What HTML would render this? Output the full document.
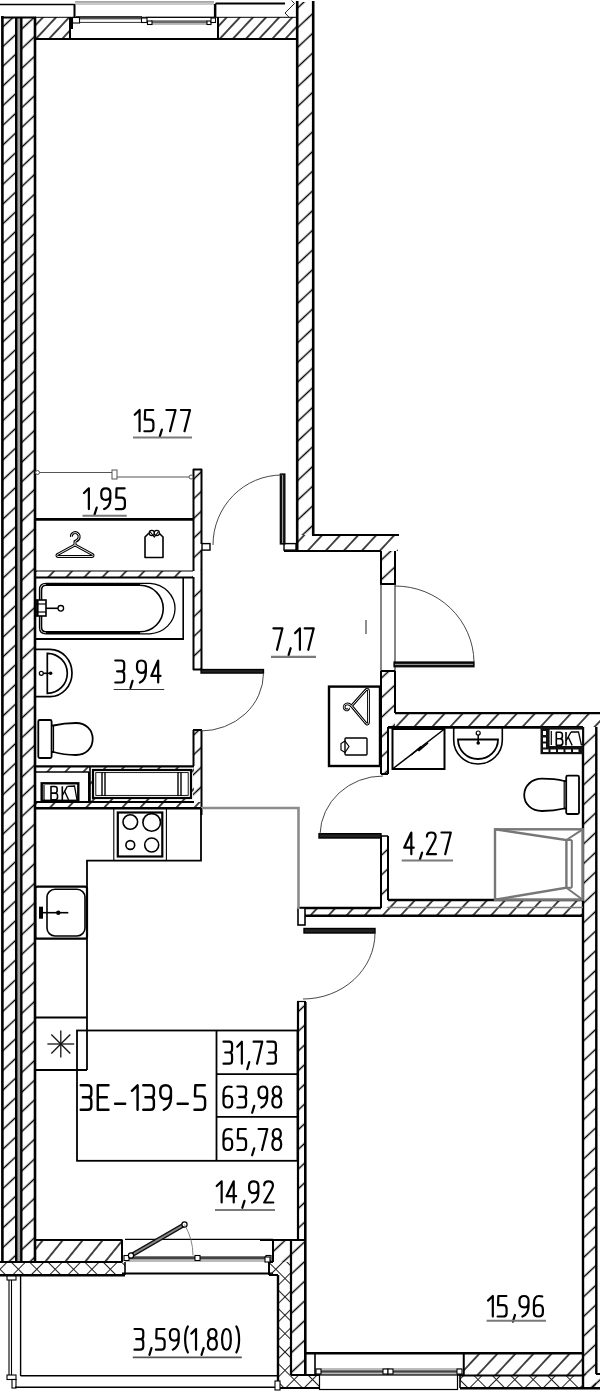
<!DOCTYPE html><html><head><meta charset="utf-8"><style>html,body{margin:0;padding:0;background:#fff;}body{width:600px;height:1393px;overflow:hidden;font-family:"Liberation Sans",sans-serif;} svg{display:block;}</style></head><body><svg width="600" height="1393" viewBox="0 0 600 1393" shape-rendering="geometricPrecision"><defs><pattern id="hv" patternUnits="userSpaceOnUse" width="40" height="14.4" patternTransform="rotate(-43)"><line x1="0" y1="7.2" x2="40" y2="7.2" stroke="#000" stroke-width="1.25"/></pattern><pattern id="hh" patternUnits="userSpaceOnUse" width="40" height="13.2" patternTransform="rotate(-47)"><line x1="0" y1="6.6" x2="40" y2="6.6" stroke="#000" stroke-width="1.25"/></pattern><pattern id="ht" patternUnits="userSpaceOnUse" width="40" height="9.6" patternTransform="rotate(-47)"><line x1="0" y1="4.8" x2="40" y2="4.8" stroke="#000" stroke-width="1.25"/></pattern><pattern id="hk" patternUnits="userSpaceOnUse" width="40" height="15.5" patternTransform="rotate(-51)"><line x1="0" y1="7.75" x2="40" y2="7.75" stroke="#000" stroke-width="1.25"/></pattern><pattern id="hx" patternUnits="userSpaceOnUse" width="13" height="13" patternTransform="rotate(45)"><line x1="0" y1="0.5" x2="13" y2="0.5" stroke="#222" stroke-width="1"/><line x1="0.5" y1="0" x2="0.5" y2="13" stroke="#222" stroke-width="1"/></pattern></defs><rect width="600" height="1393" fill="#fff"/><rect x="2" y="17" width="14" height="1245" fill="url(#hv)"/>
<rect x="21" y="17" width="14" height="1245" fill="url(#hv)"/>
<rect x="17" y="17" width="3.4" height="1245" rx="0" fill="#a5a5a5" stroke="none" stroke-width="0" />
<line x1="2.4" y1="16" x2="2.4" y2="1263" stroke="#000" stroke-width="2.6" />
<line x1="16.2" y1="17" x2="16.2" y2="1262" stroke="#000" stroke-width="2.4" />
<line x1="21.3" y1="17" x2="21.3" y2="1262" stroke="#000" stroke-width="2.4" />
<line x1="35" y1="17" x2="35" y2="1262" stroke="#000" stroke-width="2.6" />
<line x1="1" y1="17.5" x2="36" y2="17.5" stroke="#000" stroke-width="2.2" />
<rect x="35" y="17" width="35" height="22" fill="url(#ht)"/>
<rect x="218" y="17" width="79" height="22" fill="url(#ht)"/>
<line x1="0" y1="4.5" x2="74.5" y2="4.5" stroke="#000" stroke-width="1.6" />
<line x1="74.5" y1="4.5" x2="74.5" y2="17" stroke="#000" stroke-width="1.6" />
<line x1="215.6" y1="3.5" x2="285" y2="3.5" stroke="#000" stroke-width="1.8" />
<line x1="215.6" y1="3.5" x2="215.6" y2="17" stroke="#000" stroke-width="1.6" />
<line x1="35" y1="17.3" x2="297" y2="17.3" stroke="#000" stroke-width="1" />
<line x1="35" y1="39" x2="297" y2="39" stroke="#000" stroke-width="2" />
<line x1="70" y1="17" x2="70" y2="39" stroke="#000" stroke-width="2" />
<line x1="218" y1="17" x2="218" y2="39" stroke="#000" stroke-width="2" />
<rect x="75" y="1.5" width="139" height="3.5" rx="0" fill="#c8c8c8" stroke="none" stroke-width="0" />
<line x1="75" y1="1.8" x2="214" y2="1.8" stroke="#8a8a8a" stroke-width="1" />
<line x1="74.5" y1="4" x2="74.5" y2="17.5" stroke="#000" stroke-width="1.6" />
<line x1="214.8" y1="4" x2="214.8" y2="17.5" stroke="#000" stroke-width="1.8" />
<rect x="70" y="17" width="3" height="12" rx="0" fill="#000" stroke="none" stroke-width="0" />
<rect x="76" y="16.8" width="66" height="2.6" rx="0" fill="#555" stroke="none" stroke-width="0" />
<line x1="76" y1="16.8" x2="142" y2="16.8" stroke="#000" stroke-width="1" />
<line x1="76" y1="22.4" x2="142" y2="22.4" stroke="#333" stroke-width="1" />
<line x1="146" y1="17.3" x2="214" y2="17.3" stroke="#000" stroke-width="1" />
<rect x="151" y="20.3" width="56" height="2.8" rx="0" fill="#6a6a6a" stroke="none" stroke-width="0" />
<line x1="151" y1="24" x2="207" y2="24" stroke="#555" stroke-width="0.8" />
<rect x="72.5" y="17.5" width="7" height="5.5" rx="0" fill="#fff" stroke="#000" stroke-width="1.1" />
<rect x="141.5" y="18" width="5.5" height="4.5" rx="0" fill="#fff" stroke="#000" stroke-width="1.1" />
<rect x="147.5" y="21" width="4.5" height="3.5" rx="0" fill="#fff" stroke="#000" stroke-width="1.1" />
<rect x="207" y="21" width="4" height="3.5" rx="0" fill="#fff" stroke="#000" stroke-width="1.1" />
<rect x="211" y="18" width="4.5" height="4.5" rx="0" fill="#fff" stroke="#000" stroke-width="1.1" />
<polyline points="291.5,0.5 294.5,3.5 285,13 289.3,17.5" fill="none" stroke="#222" stroke-width="1" />
<rect x="297" y="2" width="16" height="533" fill="url(#hv)"/>
<line x1="297.2" y1="1" x2="297.2" y2="552" stroke="#000" stroke-width="2.6" />
<line x1="313.2" y1="1" x2="313.2" y2="535" stroke="#000" stroke-width="2.6" />
<polygon points="297,535 398,535 398,551 297,551" fill="url(#hh)" stroke="none" stroke-width="0" />
<polygon points="381,551 395,551 395,584 381,584" fill="url(#hv)" stroke="none" stroke-width="0" />
<line x1="312" y1="535" x2="399" y2="535" stroke="#000" stroke-width="2.2" />
<line x1="284" y1="551" x2="381" y2="551" stroke="#000" stroke-width="2.2" />
<line x1="381" y1="551" x2="381" y2="584" stroke="#000" stroke-width="2" />
<line x1="395" y1="551" x2="395" y2="584" stroke="#000" stroke-width="2" />
<line x1="380" y1="584" x2="396" y2="584" stroke="#000" stroke-width="2" />
<rect x="284" y="543.6" width="12" height="6.5" rx="0" fill="#fff" stroke="#000" stroke-width="1.4" />
<rect x="193" y="469" width="9" height="101" fill="url(#hv)"/>
<rect x="193" y="578" width="9" height="92" fill="url(#hv)"/>
<rect x="193" y="730" width="9" height="72" fill="url(#hv)"/>
<line x1="193.5" y1="469" x2="193.5" y2="571" stroke="#000" stroke-width="2" />
<line x1="193.5" y1="577" x2="193.5" y2="670" stroke="#000" stroke-width="2" />
<line x1="201.5" y1="469" x2="201.5" y2="544" stroke="#000" stroke-width="2" />
<line x1="201.5" y1="550" x2="201.5" y2="670" stroke="#000" stroke-width="2" />
<line x1="193" y1="469.5" x2="202" y2="469.5" stroke="#000" stroke-width="2" />
<line x1="193.5" y1="730" x2="193.5" y2="766" stroke="#000" stroke-width="2" />
<line x1="201.5" y1="730" x2="201.5" y2="815" stroke="#000" stroke-width="2" />
<rect x="202" y="543.6" width="8" height="6.5" rx="0" fill="#fff" stroke="#000" stroke-width="1.4" />
<line x1="193" y1="669.5" x2="202" y2="669.5" stroke="#000" stroke-width="2" />
<line x1="193" y1="730" x2="202" y2="730" stroke="#000" stroke-width="2" />
<line x1="35" y1="519.4" x2="193" y2="519.4" stroke="#000" stroke-width="2.8" />
<line x1="37" y1="472.5" x2="112" y2="472.5" stroke="#555" stroke-width="1" />
<line x1="117" y1="477" x2="191" y2="477" stroke="#555" stroke-width="1" />
<rect x="112" y="470" width="5" height="9" rx="0" fill="#fff" stroke="#555" stroke-width="1" />
<circle cx="37.5" cy="472.5" r="2" fill="#fff" stroke="#555" stroke-width="1"/>
<circle cx="191" cy="477" r="2" fill="#fff" stroke="#555" stroke-width="1"/>
<rect x="35" y="571" width="158" height="6" fill="url(#hh)"/>
<line x1="35" y1="571" x2="193" y2="571" stroke="#000" stroke-width="1.2" />
<line x1="35" y1="577.5" x2="193" y2="577.5" stroke="#000" stroke-width="2" />
<rect x="35" y="766" width="54" height="6" fill="url(#hh)"/>
<line x1="35" y1="766.3" x2="194" y2="766.3" stroke="#000" stroke-width="2.2" />
<line x1="35" y1="772" x2="89" y2="772" stroke="#000" stroke-width="1.6" />
<rect x="35" y="802" width="166" height="6" fill="url(#hh)"/>
<line x1="35" y1="802" x2="89" y2="802" stroke="#000" stroke-width="2" />
<line x1="35" y1="808.3" x2="201" y2="808.3" stroke="#000" stroke-width="2.4" />
<line x1="89" y1="772" x2="89" y2="802" stroke="#000" stroke-width="2" />
<rect x="90" y="766" width="104" height="36" fill="url(#hh)"/>
<rect x="93" y="770" width="98" height="28" rx="0" fill="#fff" stroke="#000" stroke-width="2.2" />
<rect x="95.8" y="772.6" width="92.4" height="22.8" rx="0" fill="none" stroke="#000" stroke-width="0.9" />
<line x1="90" y1="766" x2="90" y2="802" stroke="#000" stroke-width="1.6" />
<line x1="89" y1="802" x2="194" y2="802" stroke="#000" stroke-width="2" />
<line x1="102" y1="772" x2="102" y2="796" stroke="#000" stroke-width="1.4" />
<line x1="105" y1="772" x2="105" y2="796" stroke="#000" stroke-width="1.4" />
<line x1="178" y1="772" x2="178" y2="796" stroke="#000" stroke-width="1.4" />
<line x1="181" y1="772" x2="181" y2="796" stroke="#000" stroke-width="1.4" />
<line x1="381" y1="584" x2="381" y2="671" stroke="#222" stroke-width="1.1" />
<line x1="395" y1="584" x2="395" y2="671" stroke="#222" stroke-width="1.1" />
<polygon points="381,671 395,671 395,727 381,727" fill="url(#hv)" stroke="none" stroke-width="0" />
<rect x="381" y="727" width="7" height="47" fill="url(#hv)"/>
<line x1="381" y1="671" x2="381" y2="774" stroke="#000" stroke-width="2" />
<line x1="395" y1="671" x2="395" y2="713" stroke="#000" stroke-width="2" />
<line x1="381" y1="671" x2="395" y2="671" stroke="#000" stroke-width="2" />
<line x1="388" y1="727" x2="388" y2="774" stroke="#000" stroke-width="2" />
<line x1="381" y1="774" x2="388" y2="774" stroke="#000" stroke-width="2" />
<rect x="395" y="713" width="205" height="14" fill="url(#hh)"/>
<line x1="395" y1="713.2" x2="600" y2="713.2" stroke="#000" stroke-width="2.2" />
<line x1="388" y1="727.4" x2="583" y2="727.4" stroke="#000" stroke-width="2.6" />
<rect x="583" y="727" width="13" height="661" fill="url(#hv)"/>
<line x1="583" y1="727" x2="583" y2="1389" stroke="#000" stroke-width="2.4" />
<line x1="596.3" y1="727" x2="596.3" y2="1374" stroke="#000" stroke-width="2.4" />
<line x1="596" y1="1374" x2="600" y2="1374" stroke="#000" stroke-width="2" />
<rect x="583" y="1374" width="17" height="14" fill="url(#hv)"/>
<rect x="394" y="662" width="80" height="4.8" rx="0" fill="#111" stroke="#000" stroke-width="1.2" />
<line x1="395" y1="664.4" x2="473" y2="664.4" stroke="#ccc" stroke-width="0.8" />
<path d="M474,662 A79,77 0 0,0 395,586" fill="none" stroke="#333" stroke-width="0.9" />
<rect x="381" y="836" width="7" height="72" fill="url(#hv)"/>
<line x1="381" y1="836" x2="381" y2="908" stroke="#000" stroke-width="2" />
<line x1="388" y1="836" x2="388" y2="900" stroke="#000" stroke-width="2" />
<line x1="381" y1="836" x2="388" y2="836" stroke="#000" stroke-width="1.5" />
<rect x="319" y="833.7" width="62" height="4.3" rx="0" fill="#222" stroke="#000" stroke-width="1.4" />
<path d="M320,834 A63,60 0 0,1 383,776" fill="none" stroke="#333" stroke-width="0.9" />
<rect x="388" y="900" width="195" height="16" fill="url(#hh)"/>
<rect x="305" y="908" width="83" height="8" fill="url(#hh)"/>
<line x1="388" y1="900" x2="583" y2="900" stroke="#000" stroke-width="2.4" />
<line x1="388" y1="907.5" x2="583" y2="907.5" stroke="#777" stroke-width="1.5" />
<line x1="299" y1="908" x2="381" y2="908" stroke="#000" stroke-width="2.6" />
<line x1="305" y1="915.7" x2="583" y2="915.7" stroke="#000" stroke-width="2.4" />
<rect x="495" y="829.3" width="87.7" height="70.4" rx="0" fill="none" stroke="#777" stroke-width="2.4" />
<polyline points="495,829.3 566.4,840 566.4,887.8 495,899.7" fill="none" stroke="#777" stroke-width="2.4" />
<line x1="571.8" y1="840" x2="571.8" y2="887.8" stroke="#777" stroke-width="2" />
<line x1="566.4" y1="840" x2="582.7" y2="829.3" stroke="#777" stroke-width="2" />
<line x1="566.4" y1="887.8" x2="582.7" y2="899.7" stroke="#777" stroke-width="2" />
<line x1="566.4" y1="840" x2="571.8" y2="840" stroke="#777" stroke-width="2" />
<line x1="566.4" y1="887.8" x2="571.8" y2="887.8" stroke="#777" stroke-width="2" />
<rect x="298" y="1002" width="7" height="238" fill="url(#hv)"/>
<line x1="298" y1="1002" x2="298" y2="1240" stroke="#000" stroke-width="2.2" />
<line x1="305.3" y1="1002" x2="305.3" y2="1240" stroke="#000" stroke-width="2.6" />
<line x1="297" y1="1001.5" x2="306" y2="1001.5" stroke="#000" stroke-width="1.2" />
<rect x="298" y="908" width="7" height="17" rx="0" fill="#fff" stroke="#000" stroke-width="1.6" />
<rect x="304" y="928.5" width="71" height="4.5" rx="0" fill="#222" stroke="#000" stroke-width="1.4" />
<path d="M375,933 A72,66 0 0,1 303,999" fill="none" stroke="#333" stroke-width="0.9" />
<polyline points="201,808 298.5,808 298.5,909" fill="none" stroke="#8c8c8c" stroke-width="2.6" />
<line x1="183.2" y1="577.5" x2="183.2" y2="639" stroke="#000" stroke-width="1.6" />
<line x1="35" y1="639" x2="184" y2="639" stroke="#000" stroke-width="2.2" />
<path d="M46,583.3 L150,583.3 A26.7,25.3 0 0,1 150,633.8 L46,633.8 C42,633.8 39.5,631.5 39.5,627.5 L39.5,589.5 C39.5,585.5 42,583.3 46,583.3 Z" fill="none" stroke="#000" stroke-width="1.3" />
<path d="M46,585.3 L140,585.3 A23.2,23.2 0 0,1 140,631.8 L46,631.8 C43,631.8 41.5,630 41.5,627 L41.5,590.5 C41.5,587.3 43,585.3 46,585.3 Z" fill="none" stroke="#000" stroke-width="1.6" />
<line x1="46" y1="584.3" x2="140" y2="584.3" stroke="#000" stroke-width="2.4" />
<line x1="46" y1="632.8" x2="140" y2="632.8" stroke="#000" stroke-width="2.4" />
<rect x="36" y="600" width="10" height="16" rx="0" fill="#fff" stroke="#000" stroke-width="1.6" />
<line x1="36" y1="604" x2="46" y2="604" stroke="#000" stroke-width="1.2" />
<line x1="36" y1="612" x2="46" y2="612" stroke="#000" stroke-width="1.2" />
<line x1="37.5" y1="600" x2="37.5" y2="616" stroke="#000" stroke-width="2.2" />
<line x1="46" y1="608.3" x2="58" y2="608.3" stroke="#000" stroke-width="1.6" />
<circle cx="60.8" cy="608.3" r="2.8" fill="#fff" stroke="#000" stroke-width="1.3"/>
<path d="M35.5,649.3 L50,649.3 A22,23.7 0 0,1 50,696.7 L35.5,696.7" fill="none" stroke="#000" stroke-width="1.7" />
<path d="M47.3,653.3 A20,20 0 0,1 47.3,693.3 Z" fill="none" stroke="#000" stroke-width="1.7" />
<circle cx="41.3" cy="673.3" r="2" fill="#fff" stroke="#000" stroke-width="1.2"/>
<line x1="43.3" y1="673.3" x2="51" y2="673.3" stroke="#000" stroke-width="1.6" />
<circle cx="50.7" cy="673.3" r="1.7" fill="#000"/>
<rect x="38.3" y="720" width="13.3" height="38" rx="1.5" fill="#fff" stroke="#000" stroke-width="1.8" />
<path d="M51.6,725.5 L53.5,725.5 C62,723.5 70,723 76,723 C86,723 92.7,730 92.7,739 C92.7,748 86,755 76,755 C70,755 62,754.5 53.5,752 L51.6,752" fill="none" stroke="#000" stroke-width="1.8" />
<line x1="53.5" y1="725.5" x2="53.5" y2="752" stroke="#000" stroke-width="1.2" />
<rect x="41.7" y="783.3" width="36.6" height="17.5" rx="0" fill="#fff" stroke="#000" stroke-width="2.4" />
<line x1="44" y1="785" x2="44" y2="800" stroke="#000" stroke-width="1.2" />
<g transform="translate(50.38,785.84) scale(0.7765,0.6650)" fill="none" stroke="#000" stroke-width="1.6" stroke-linecap="round" stroke-linejoin="round"><path vector-effect="non-scaling-stroke" transform="translate(0.00,0)" d="M0.8,1 L0.8,21 L6,21 C8.3,21 9.2,19.8 9.2,17 L9.2,15 C9.2,12 8,11 5.5,11 L0.8,11 M5.5,11 C7.5,11 8.7,10 8.7,7.5 L8.7,4.5 C8.7,2 7.5,1 5.5,1 L0.8,1"/></g>
<line x1="62.3" y1="786.3" x2="62.3" y2="800" stroke="#000" stroke-width="1.6" />
<line x1="62.3" y1="795.5" x2="67.3" y2="786.3" stroke="#000" stroke-width="1.4" />
<line x1="64.6" y1="791.2" x2="68.6" y2="800" stroke="#000" stroke-width="1.4" />
<polyline points="67.3,786.3 74.5,786 77,800" fill="none" stroke="#000" stroke-width="1.3" />
<rect x="329" y="686.6" width="51" height="79.4" rx="0" fill="#fff" stroke="#000" stroke-width="2.4" />
<polyline points="201,808 201,860.7 87,860.7 87,1070" fill="none" stroke="#000" stroke-width="1.8" />
<rect x="113.8" y="808.3" width="52.6" height="52.2" rx="0" fill="none" stroke="#000" stroke-width="1.1" />
<rect x="117.8" y="812.5" width="44.5" height="44" rx="0" fill="none" stroke="#000" stroke-width="2.2" />
<circle cx="130.3" cy="822" r="7.3" fill="none" stroke="#000" stroke-width="1.6"/>
<circle cx="151.7" cy="822.4" r="8.8" fill="none" stroke="#000" stroke-width="1.6"/>
<circle cx="130.3" cy="845" r="4.4" fill="none" stroke="#000" stroke-width="1.6"/>
<circle cx="151.7" cy="845" r="7" fill="none" stroke="#000" stroke-width="1.6"/>
<rect x="35.5" y="886.7" width="51.5" height="52" rx="2" fill="#fff" stroke="#000" stroke-width="2.2" />
<rect x="47" y="889.3" width="38" height="46.7" rx="8" fill="none" stroke="#000" stroke-width="1.6" />
<rect x="39" y="906.7" width="4" height="12" rx="0" fill="#000" stroke="none" stroke-width="0" />
<line x1="43" y1="912.7" x2="68.3" y2="912.7" stroke="#000" stroke-width="1.6" />
<circle cx="58.3" cy="912.7" r="2.2" fill="#000"/>
<line x1="35" y1="1017.5" x2="87" y2="1017.5" stroke="#000" stroke-width="1.8" />
<line x1="35" y1="1070" x2="87" y2="1070" stroke="#000" stroke-width="1.8" />
<line x1="47.4" y1="1044.0" x2="74.2" y2="1044.0" stroke="#111" stroke-width="1.3" />
<line x1="51.32" y1="1034.52" x2="70.28" y2="1053.48" stroke="#111" stroke-width="1.3" />
<line x1="60.8" y1="1030.6" x2="60.8" y2="1057.4" stroke="#111" stroke-width="1.3" />
<line x1="70.28" y1="1034.52" x2="51.32" y2="1053.48" stroke="#111" stroke-width="1.3" />
<rect x="77" y="1030.5" width="220.5" height="130.3" rx="0" fill="none" stroke="#000" stroke-width="1.8" />
<line x1="216.5" y1="1030.5" x2="216.5" y2="1160.8" stroke="#000" stroke-width="1.8" />
<line x1="216.5" y1="1074.2" x2="297.5" y2="1074.2" stroke="#000" stroke-width="1.8" />
<line x1="216.5" y1="1116.8" x2="297.5" y2="1116.8" stroke="#000" stroke-width="1.8" />
<g transform="translate(133.89,408.94) scale(1.0728,1.0625)" fill="none" stroke="#000" stroke-width="2.2" stroke-linecap="round" stroke-linejoin="round"><path vector-effect="non-scaling-stroke" transform="translate(0.00,0)" d="M0.8,5.5 L5.3,1 L5.3,21"/><path vector-effect="non-scaling-stroke" transform="translate(9.00,0)" d="M9,1 L1.5,1 L1.2,10 L6.2,10 C8.3,10 9.2,11.2 9.2,13.5 L9.2,17.5 C9.2,20 8.3,21 6.2,21 L0.8,21"/><path vector-effect="non-scaling-stroke" transform="translate(22.50,0)" d="M3.6,19.5 L1.6,26"/><path vector-effect="non-scaling-stroke" transform="translate(29.50,0)" d="M0.8,1 L9.3,1 L4.2,21"/><path vector-effect="non-scaling-stroke" transform="translate(43.00,0)" d="M0.8,1 L9.3,1 L4.2,21"/></g>
<line x1="133" y1="437.5" x2="192" y2="437.5" stroke="#7a7a7a" stroke-width="2" />
<g transform="translate(83.14,487.26) scale(1.0789,1.0400)" fill="none" stroke="#000" stroke-width="2.2" stroke-linecap="round" stroke-linejoin="round"><path vector-effect="non-scaling-stroke" transform="translate(0.00,0)" d="M0.8,5.5 L5.3,1 L5.3,21"/><path vector-effect="non-scaling-stroke" transform="translate(9.00,0)" d="M3.6,19.5 L1.6,26"/><path vector-effect="non-scaling-stroke" transform="translate(16.00,0)" d="M9.2,7.5 C9.2,10.8 7.5,12.2 5,12.2 C2.5,12.2 0.8,10.8 0.8,7.5 L0.8,5.5 C0.8,2.5 2.5,1 5,1 C7.5,1 9.2,2.5 9.2,5.5 L9.2,11 C9.2,16 7.2,19.5 3.5,21"/><path vector-effect="non-scaling-stroke" transform="translate(29.50,0)" d="M9,1 L1.5,1 L1.2,10 L6.2,10 C8.3,10 9.2,11.2 9.2,13.5 L9.2,17.5 C9.2,20 8.3,21 6.2,21 L0.8,21"/></g>
<line x1="82.5" y1="515.8" x2="126.7" y2="515.8" stroke="#7a7a7a" stroke-width="2" />
<g transform="translate(114.45,659.40) scale(1.0588,1.1000)" fill="none" stroke="#000" stroke-width="2.2" stroke-linecap="round" stroke-linejoin="round"><path vector-effect="non-scaling-stroke" transform="translate(0.00,0)" d="M0.8,1 L6.3,1 C8.3,1 9.2,2 9.2,4 L9.2,8 C9.2,9.9 8.3,10.8 6.3,10.8 L2.5,10.8 M6.3,10.8 C8.3,10.8 9.2,11.8 9.2,14 L9.2,18 C9.2,20 8.3,21 6.3,21 L0.8,21"/><path vector-effect="non-scaling-stroke" transform="translate(13.50,0)" d="M3.6,19.5 L1.6,26"/><path vector-effect="non-scaling-stroke" transform="translate(20.50,0)" d="M9.2,7.5 C9.2,10.8 7.5,12.2 5,12.2 C2.5,12.2 0.8,10.8 0.8,7.5 L0.8,5.5 C0.8,2.5 2.5,1 5,1 C7.5,1 9.2,2.5 9.2,5.5 L9.2,11 C9.2,16 7.2,19.5 3.5,21"/><path vector-effect="non-scaling-stroke" transform="translate(34.00,0)" d="M7.3,21 L7.3,1 L0.8,15 L9.5,15"/></g>
<line x1="113.7" y1="689.5" x2="164.2" y2="689.5" stroke="#333" stroke-width="1.2" />
<g transform="translate(272.55,627.22) scale(1.0605,1.0750)" fill="none" stroke="#000" stroke-width="2.2" stroke-linecap="round" stroke-linejoin="round"><path vector-effect="non-scaling-stroke" transform="translate(0.00,0)" d="M0.8,1 L9.3,1 L4.2,21"/><path vector-effect="non-scaling-stroke" transform="translate(13.50,0)" d="M3.6,19.5 L1.6,26"/><path vector-effect="non-scaling-stroke" transform="translate(20.50,0)" d="M0.8,5.5 L5.3,1 L5.3,21"/><path vector-effect="non-scaling-stroke" transform="translate(29.50,0)" d="M0.8,1 L9.3,1 L4.2,21"/></g>
<line x1="271" y1="656.8" x2="316" y2="656.8" stroke="#7a7a7a" stroke-width="2.2" />
<g transform="translate(403.32,831.41) scale(1.0965,1.0850)" fill="none" stroke="#000" stroke-width="2.2" stroke-linecap="round" stroke-linejoin="round"><path vector-effect="non-scaling-stroke" transform="translate(0.00,0)" d="M7.3,21 L7.3,1 L0.8,15 L9.5,15"/><path vector-effect="non-scaling-stroke" transform="translate(13.50,0)" d="M3.6,19.5 L1.6,26"/><path vector-effect="non-scaling-stroke" transform="translate(20.50,0)" d="M1,4.8 C1,2.4 2.8,1 5,1 C7.3,1 9,2.4 9,5 C9,8 6.5,11 1,21 L9.3,21"/><path vector-effect="non-scaling-stroke" transform="translate(34.00,0)" d="M0.8,1 L9.3,1 L4.2,21"/></g>
<line x1="401.7" y1="860.5" x2="453" y2="860.5" stroke="#7a7a7a" stroke-width="2" />
<g transform="translate(222.68,1040.60) scale(1.0194,1.1000)" fill="none" stroke="#000" stroke-width="2.2" stroke-linecap="round" stroke-linejoin="round"><path vector-effect="non-scaling-stroke" transform="translate(0.00,0)" d="M0.8,1 L6.3,1 C8.3,1 9.2,2 9.2,4 L9.2,8 C9.2,9.9 8.3,10.8 6.3,10.8 L2.5,10.8 M6.3,10.8 C8.3,10.8 9.2,11.8 9.2,14 L9.2,18 C9.2,20 8.3,21 6.3,21 L0.8,21"/><path vector-effect="non-scaling-stroke" transform="translate(13.50,0)" d="M0.8,5.5 L5.3,1 L5.3,21"/><path vector-effect="non-scaling-stroke" transform="translate(22.50,0)" d="M3.6,19.5 L1.6,26"/><path vector-effect="non-scaling-stroke" transform="translate(29.50,0)" d="M0.8,1 L9.3,1 L4.2,21"/><path vector-effect="non-scaling-stroke" transform="translate(43.00,0)" d="M0.8,1 L6.3,1 C8.3,1 9.2,2 9.2,4 L9.2,8 C9.2,9.9 8.3,10.8 6.3,10.8 L2.5,10.8 M6.3,10.8 C8.3,10.8 9.2,11.8 9.2,14 L9.2,18 C9.2,20 8.3,21 6.3,21 L0.8,21"/></g>
<g transform="translate(222.68,1085.45) scale(1.0304,1.0500)" fill="none" stroke="#000" stroke-width="2.2" stroke-linecap="round" stroke-linejoin="round"><path vector-effect="non-scaling-stroke" transform="translate(0.00,0)" d="M8.6,1.4 C7.8,1 7,1 5.5,1 C2.5,1 0.8,3.5 0.8,8 L0.8,16.5 C0.8,19.5 2.5,21 5,21 C7.5,21 9.2,19.5 9.2,16.5 L9.2,14 C9.2,11 7.5,9.8 5,9.8 C2.5,9.8 0.8,11 0.8,13.5"/><path vector-effect="non-scaling-stroke" transform="translate(13.50,0)" d="M0.8,1 L6.3,1 C8.3,1 9.2,2 9.2,4 L9.2,8 C9.2,9.9 8.3,10.8 6.3,10.8 L2.5,10.8 M6.3,10.8 C8.3,10.8 9.2,11.8 9.2,14 L9.2,18 C9.2,20 8.3,21 6.3,21 L0.8,21"/><path vector-effect="non-scaling-stroke" transform="translate(27.00,0)" d="M3.6,19.5 L1.6,26"/><path vector-effect="non-scaling-stroke" transform="translate(34.00,0)" d="M9.2,7.5 C9.2,10.8 7.5,12.2 5,12.2 C2.5,12.2 0.8,10.8 0.8,7.5 L0.8,5.5 C0.8,2.5 2.5,1 5,1 C7.5,1 9.2,2.5 9.2,5.5 L9.2,11 C9.2,16 7.2,19.5 3.5,21"/><path vector-effect="non-scaling-stroke" transform="translate(47.50,0)" d="M5,1 C7.3,1 8.9,2.5 8.9,5.6 C8.9,8.6 7.3,10.1 5,10.1 C2.7,10.1 1.1,8.6 1.1,5.6 C1.1,2.5 2.7,1 5,1 Z M5,10.1 C7.6,10.1 9.3,12 9.3,15.5 C9.3,19.3 7.6,21 5,21 C2.4,21 0.7,19.3 0.7,15.5 C0.7,12 2.4,10.1 5,10.1 Z"/></g>
<g transform="translate(222.68,1127.95) scale(1.0304,1.0500)" fill="none" stroke="#000" stroke-width="2.2" stroke-linecap="round" stroke-linejoin="round"><path vector-effect="non-scaling-stroke" transform="translate(0.00,0)" d="M8.6,1.4 C7.8,1 7,1 5.5,1 C2.5,1 0.8,3.5 0.8,8 L0.8,16.5 C0.8,19.5 2.5,21 5,21 C7.5,21 9.2,19.5 9.2,16.5 L9.2,14 C9.2,11 7.5,9.8 5,9.8 C2.5,9.8 0.8,11 0.8,13.5"/><path vector-effect="non-scaling-stroke" transform="translate(13.50,0)" d="M9,1 L1.5,1 L1.2,10 L6.2,10 C8.3,10 9.2,11.2 9.2,13.5 L9.2,17.5 C9.2,20 8.3,21 6.2,21 L0.8,21"/><path vector-effect="non-scaling-stroke" transform="translate(27.00,0)" d="M3.6,19.5 L1.6,26"/><path vector-effect="non-scaling-stroke" transform="translate(34.00,0)" d="M0.8,1 L9.3,1 L4.2,21"/><path vector-effect="non-scaling-stroke" transform="translate(47.50,0)" d="M5,1 C7.3,1 8.9,2.5 8.9,5.6 C8.9,8.6 7.3,10.1 5,10.1 C2.7,10.1 1.1,8.6 1.1,5.6 C1.1,2.5 2.7,1 5,1 Z M5,10.1 C7.6,10.1 9.3,12 9.3,15.5 C9.3,19.3 7.6,21 5,21 C2.4,21 0.7,19.3 0.7,15.5 C0.7,12 2.4,10.1 5,10.1 Z"/></g>
<g transform="translate(79.69,1084.08) scale(1.2640,1.2250)" fill="none" stroke="#000" stroke-width="2.4" stroke-linecap="round" stroke-linejoin="round"><path vector-effect="non-scaling-stroke" transform="translate(0.00,0)" d="M0.8,1 L6.3,1 C8.3,1 9.2,2 9.2,4 L9.2,8 C9.2,9.9 8.3,10.8 6.3,10.8 L2.5,10.8 M6.3,10.8 C8.3,10.8 9.2,11.8 9.2,14 L9.2,18 C9.2,20 8.3,21 6.3,21 L0.8,21"/><path vector-effect="non-scaling-stroke" transform="translate(13.50,0)" d="M9.3,1 L0.8,1 L0.8,21 L9.3,21 M0.8,10.8 L8,10.8"/><path vector-effect="non-scaling-stroke" transform="translate(27.00,0)" d="M1,16 L9,16"/><path vector-effect="non-scaling-stroke" transform="translate(40.50,0)" d="M0.8,5.5 L5.3,1 L5.3,21"/><path vector-effect="non-scaling-stroke" transform="translate(49.50,0)" d="M0.8,1 L6.3,1 C8.3,1 9.2,2 9.2,4 L9.2,8 C9.2,9.9 8.3,10.8 6.3,10.8 L2.5,10.8 M6.3,10.8 C8.3,10.8 9.2,11.8 9.2,14 L9.2,18 C9.2,20 8.3,21 6.3,21 L0.8,21"/><path vector-effect="non-scaling-stroke" transform="translate(63.00,0)" d="M9.2,7.5 C9.2,10.8 7.5,12.2 5,12.2 C2.5,12.2 0.8,10.8 0.8,7.5 L0.8,5.5 C0.8,2.5 2.5,1 5,1 C7.5,1 9.2,2.5 9.2,5.5 L9.2,11 C9.2,16 7.2,19.5 3.5,21"/><path vector-effect="non-scaling-stroke" transform="translate(76.50,0)" d="M1,16 L9,16"/><path vector-effect="non-scaling-stroke" transform="translate(90.00,0)" d="M9,1 L1.5,1 L1.2,10 L6.2,10 C8.3,10 9.2,11.2 9.2,13.5 L9.2,17.5 C9.2,20 8.3,21 6.2,21 L0.8,21"/></g>
<g transform="translate(215.82,1180.24) scale(1.0990,1.0600)" fill="none" stroke="#000" stroke-width="2.2" stroke-linecap="round" stroke-linejoin="round"><path vector-effect="non-scaling-stroke" transform="translate(0.00,0)" d="M0.8,5.5 L5.3,1 L5.3,21"/><path vector-effect="non-scaling-stroke" transform="translate(9.00,0)" d="M7.3,21 L7.3,1 L0.8,15 L9.5,15"/><path vector-effect="non-scaling-stroke" transform="translate(22.50,0)" d="M3.6,19.5 L1.6,26"/><path vector-effect="non-scaling-stroke" transform="translate(29.50,0)" d="M9.2,7.5 C9.2,10.8 7.5,12.2 5,12.2 C2.5,12.2 0.8,10.8 0.8,7.5 L0.8,5.5 C0.8,2.5 2.5,1 5,1 C7.5,1 9.2,2.5 9.2,5.5 L9.2,11 C9.2,16 7.2,19.5 3.5,21"/><path vector-effect="non-scaling-stroke" transform="translate(43.00,0)" d="M1,4.8 C1,2.4 2.8,1 5,1 C7.3,1 9,2.4 9,5 C9,8 6.5,11 1,21 L9.3,21"/></g>
<line x1="215" y1="1210" x2="275" y2="1210" stroke="#7a7a7a" stroke-width="2" />
<g transform="translate(487.15,1294.97) scale(1.0680,1.0250)" fill="none" stroke="#000" stroke-width="2.2" stroke-linecap="round" stroke-linejoin="round"><path vector-effect="non-scaling-stroke" transform="translate(0.00,0)" d="M0.8,5.5 L5.3,1 L5.3,21"/><path vector-effect="non-scaling-stroke" transform="translate(9.00,0)" d="M9,1 L1.5,1 L1.2,10 L6.2,10 C8.3,10 9.2,11.2 9.2,13.5 L9.2,17.5 C9.2,20 8.3,21 6.2,21 L0.8,21"/><path vector-effect="non-scaling-stroke" transform="translate(22.50,0)" d="M3.6,19.5 L1.6,26"/><path vector-effect="non-scaling-stroke" transform="translate(29.50,0)" d="M9.2,7.5 C9.2,10.8 7.5,12.2 5,12.2 C2.5,12.2 0.8,10.8 0.8,7.5 L0.8,5.5 C0.8,2.5 2.5,1 5,1 C7.5,1 9.2,2.5 9.2,5.5 L9.2,11 C9.2,16 7.2,19.5 3.5,21"/><path vector-effect="non-scaling-stroke" transform="translate(43.00,0)" d="M8.6,1.4 C7.8,1 7,1 5.5,1 C2.5,1 0.8,3.5 0.8,8 L0.8,16.5 C0.8,19.5 2.5,21 5,21 C7.5,21 9.2,19.5 9.2,16.5 L9.2,14 C9.2,11 7.5,9.8 5,9.8 C2.5,9.8 0.8,11 0.8,13.5"/></g>
<line x1="486.6" y1="1320.7" x2="546" y2="1320.7" stroke="#7a7a7a" stroke-width="2" />
<g transform="translate(133.67,1327.96) scale(1.0425,1.0350)" fill="none" stroke="#000" stroke-width="2.2" stroke-linecap="round" stroke-linejoin="round"><path vector-effect="non-scaling-stroke" transform="translate(0.00,0)" d="M0.8,1 L6.3,1 C8.3,1 9.2,2 9.2,4 L9.2,8 C9.2,9.9 8.3,10.8 6.3,10.8 L2.5,10.8 M6.3,10.8 C8.3,10.8 9.2,11.8 9.2,14 L9.2,18 C9.2,20 8.3,21 6.3,21 L0.8,21"/><path vector-effect="non-scaling-stroke" transform="translate(13.50,0)" d="M3.6,19.5 L1.6,26"/><path vector-effect="non-scaling-stroke" transform="translate(20.50,0)" d="M9,1 L1.5,1 L1.2,10 L6.2,10 C8.3,10 9.2,11.2 9.2,13.5 L9.2,17.5 C9.2,20 8.3,21 6.2,21 L0.8,21"/><path vector-effect="non-scaling-stroke" transform="translate(34.00,0)" d="M9.2,7.5 C9.2,10.8 7.5,12.2 5,12.2 C2.5,12.2 0.8,10.8 0.8,7.5 L0.8,5.5 C0.8,2.5 2.5,1 5,1 C7.5,1 9.2,2.5 9.2,5.5 L9.2,11 C9.2,16 7.2,19.5 3.5,21"/><path vector-effect="non-scaling-stroke" transform="translate(47.50,0)" d="M4.5,-1.5 C1,4 1,18 4.5,23.5"/><path vector-effect="non-scaling-stroke" transform="translate(54.50,0)" d="M0.8,5.5 L5.3,1 L5.3,21"/><path vector-effect="non-scaling-stroke" transform="translate(63.50,0)" d="M3.6,19.5 L1.6,26"/><path vector-effect="non-scaling-stroke" transform="translate(70.50,0)" d="M5,1 C7.3,1 8.9,2.5 8.9,5.6 C8.9,8.6 7.3,10.1 5,10.1 C2.7,10.1 1.1,8.6 1.1,5.6 C1.1,2.5 2.7,1 5,1 Z M5,10.1 C7.6,10.1 9.3,12 9.3,15.5 C9.3,19.3 7.6,21 5,21 C2.4,21 0.7,19.3 0.7,15.5 C0.7,12 2.4,10.1 5,10.1 Z"/><path vector-effect="non-scaling-stroke" transform="translate(84.00,0)" d="M5,1 C7.8,1 9.2,5.5 9.2,11 C9.2,16.5 7.8,21 5,21 C2.2,21 0.8,16.5 0.8,11 C0.8,5.5 2.2,1 5,1 Z"/><path vector-effect="non-scaling-stroke" transform="translate(97.50,0)" d="M1,-1.5 C4.5,4 4.5,18 1,23.5"/></g>
<line x1="132.8" y1="1357.4" x2="241.8" y2="1357.4" stroke="#555" stroke-width="1.6" />
<rect x="392.5" y="729" width="52" height="40" rx="0" fill="none" stroke="#000" stroke-width="2" />
<line x1="392.5" y1="769" x2="444.5" y2="729" stroke="#000" stroke-width="1.5" />
<polyline points="411,755 421,746.5 418.5,751 428,743" fill="none" stroke="#000" stroke-width="1.6" />
<path d="M453.7,727.5 L453.7,740 A24.3,24 0 0,0 502.3,740 L502.3,727.5" fill="none" stroke="#000" stroke-width="1.6" />
<path d="M458,739.5 L498,739.5 A20,19.5 0 0,1 458,739.5 Z" fill="none" stroke="#000" stroke-width="1.8" />
<circle cx="478.2" cy="733" r="2" fill="#fff" stroke="#000" stroke-width="1.2"/>
<line x1="478.2" y1="735" x2="478.2" y2="742" stroke="#000" stroke-width="1.5" />
<circle cx="478.2" cy="743" r="1.8" fill="#000"/>
<rect x="540.5" y="727" width="42.8" height="27.2" rx="0" fill="#111" stroke="none" stroke-width="0" />
<rect x="543" y="731" width="3" height="4" rx="0" fill="#fff" stroke="none" stroke-width="0" />
<rect x="543" y="737.5" width="3" height="4" rx="0" fill="#fff" stroke="none" stroke-width="0" />
<rect x="543" y="743.5" width="3" height="4" rx="0" fill="#fff" stroke="none" stroke-width="0" />
<rect x="543" y="749.5" width="5.5" height="2.5" rx="0" fill="#fff" stroke="none" stroke-width="0" />
<rect x="550.5" y="749.5" width="5.5" height="2.5" rx="0" fill="#fff" stroke="none" stroke-width="0" />
<rect x="558" y="749.5" width="5.5" height="2.5" rx="0" fill="#fff" stroke="none" stroke-width="0" />
<rect x="565.5" y="749.5" width="5.5" height="2.5" rx="0" fill="#fff" stroke="none" stroke-width="0" />
<rect x="573" y="749.5" width="5.5" height="2.5" rx="0" fill="#fff" stroke="none" stroke-width="0" />
<rect x="549.6" y="729.6" width="32.4" height="16.4" rx="0" fill="#fff" stroke="none" stroke-width="0" />
<line x1="551.3" y1="731" x2="551.3" y2="745" stroke="#000" stroke-width="1.2" />
<g transform="translate(555.69,731.65) scale(0.7647,0.6500)" fill="none" stroke="#000" stroke-width="1.6" stroke-linecap="round" stroke-linejoin="round"><path vector-effect="non-scaling-stroke" transform="translate(0.00,0)" d="M0.8,1 L0.8,21 L6,21 C8.3,21 9.2,19.8 9.2,17 L9.2,15 C9.2,12 8,11 5.5,11 L0.8,11 M5.5,11 C7.5,11 8.7,10 8.7,7.5 L8.7,4.5 C8.7,2 7.5,1 5.5,1 L0.8,1"/></g>
<line x1="566" y1="732" x2="566" y2="745.5" stroke="#000" stroke-width="1.6" />
<line x1="566" y1="741" x2="571" y2="732" stroke="#000" stroke-width="1.4" />
<line x1="568.2" y1="737" x2="572.2" y2="745.5" stroke="#000" stroke-width="1.4" />
<polyline points="571,732 578.5,731.8 581.5,745.5" fill="none" stroke="#000" stroke-width="1.3" />
<rect x="566.2" y="775.7" width="12.8" height="38.3" rx="1.5" fill="#fff" stroke="#000" stroke-width="1.8" />
<path d="M566.2,781 L564.2,781 C556,779 548,778.7 542,778.7 C531.5,778.7 524.2,786 524.2,795 C524.2,804 531.5,811 542,811 C548,811 556,810.5 564.2,808.5 L566.2,808.5" fill="none" stroke="#000" stroke-width="1.8" />
<line x1="564.2" y1="781" x2="564.2" y2="808.5" stroke="#000" stroke-width="1.2" />
<path d="M75,545 L75,541.5 C78.3,540.3 79.5,537.8 79,535.5 C78.3,533 75.5,532 73.5,533 C71.8,533.8 71.2,535.3 71.5,536.8" fill="none" stroke="#000" stroke-width="3.0" stroke-linejoin="round"/>
<path d="M75,545 L57.5,554.5 C56.5,555.2 57,556.5 58,556.5 L92,556.5 C93,556.5 93.5,555.2 92.5,554.5 L75,545 Z" fill="none" stroke="#000" stroke-width="3.0" stroke-linejoin="round"/>
<path d="M75,545 L75,541.5 C78.3,540.3 79.5,537.8 79,535.5 C78.3,533 75.5,532 73.5,533 C71.8,533.8 71.2,535.3 71.5,536.8" fill="none" stroke="#fff" stroke-width="0.9" stroke-linejoin="round"/>
<path d="M75,545 L57.5,554.5 C56.5,555.2 57,556.5 58,556.5 L92,556.5 C93,556.5 93.5,555.2 92.5,554.5 L75,545 Z" fill="none" stroke="#fff" stroke-width="0.9" stroke-linejoin="round"/>
<path d="M145,537 L148.5,533.5 L159.5,533.5 L163,537 L163,557.5 L145,557.5 Z" fill="#fff" stroke="#000" stroke-width="1.6" stroke-linejoin="round"/>
<circle cx="151.8" cy="533" r="2.6" fill="#fff" stroke="#000" stroke-width="1.2"/>
<circle cx="156.8" cy="533" r="2.6" fill="#fff" stroke="#000" stroke-width="1.2"/>
<polyline points="150,531.5 154.3,537 158.6,531.5" fill="none" stroke="#000" stroke-width="1.1" />
<path d="M351.5,706 L366,689.8 C367,688.8 368.5,689.2 368.5,690.8 L368.5,722.5 C368.5,724 367,724.6 366,723.4 Z" fill="none" stroke="#000" stroke-width="2.8" stroke-linejoin="round"/>
<path d="M351.5,706 C350,704.5 348,703.5 346,704.2 C343.8,705 343.5,708.5 345.5,709.6 C347,710.4 348.8,709.6 348.5,708" fill="none" stroke="#000" stroke-width="2.8" stroke-linejoin="round"/>
<path d="M351.5,706 L366,689.8 C367,688.8 368.5,689.2 368.5,690.8 L368.5,722.5 C368.5,724 367,724.6 366,723.4 Z" fill="none" stroke="#fff" stroke-width="0.9" stroke-linejoin="round"/>
<path d="M351.5,706 C350,704.5 348,703.5 346,704.2 C343.8,705 343.5,708.5 345.5,709.6 C347,710.4 348.8,709.6 348.5,708" fill="none" stroke="#fff" stroke-width="0.9" stroke-linejoin="round"/>
<rect x="345" y="738" width="22" height="17" rx="1" fill="#fff" stroke="#000" stroke-width="1.4" />
<path d="M345,741 L341,743.5 L341,750 L345,752.5 L349,746.5 Z" fill="none" stroke="#000" stroke-width="1.2" />
<rect x="35" y="1240" width="87" height="22" fill="url(#hk)"/>
<line x1="35" y1="1240" x2="122.5" y2="1240" stroke="#000" stroke-width="2.2" />
<line x1="122" y1="1240" x2="122" y2="1262" stroke="#000" stroke-width="2" />
<rect x="0" y="1262" width="125" height="13" fill="url(#hx)"/>
<line x1="0" y1="1262" x2="122" y2="1262" stroke="#000" stroke-width="2" />
<line x1="0" y1="1275.3" x2="125" y2="1275.3" stroke="#000" stroke-width="2.6" />
<line x1="125" y1="1262" x2="125" y2="1275" stroke="#000" stroke-width="1.6" />
<line x1="125" y1="1239.3" x2="273" y2="1239.3" stroke="#000" stroke-width="1.3" />
<line x1="125" y1="1258.3" x2="270" y2="1258.3" stroke="#444" stroke-width="2.6" />
<line x1="125" y1="1261" x2="270" y2="1261" stroke="#555" stroke-width="0.8" />
<line x1="125" y1="1256.5" x2="270" y2="1256.5" stroke="#555" stroke-width="0.8" />
<line x1="122" y1="1273.5" x2="273" y2="1273.5" stroke="#000" stroke-width="2" />
<rect x="124" y="1255.5" width="5" height="5" rx="0" fill="#fff" stroke="#000" stroke-width="1.1" />
<rect x="195" y="1255.5" width="5" height="5" rx="0" fill="#fff" stroke="#000" stroke-width="1.1" />
<rect x="266" y="1255.5" width="5" height="5" rx="0" fill="#fff" stroke="#000" stroke-width="1.1" />
<line x1="131" y1="1255.5" x2="184.5" y2="1224.5" stroke="#111" stroke-width="4.4" />
<line x1="131" y1="1255.5" x2="184.5" y2="1224.5" stroke="#888" stroke-width="2" />
<circle cx="131" cy="1255.5" r="2.6" fill="#fff" stroke="#000" stroke-width="1.2"/>
<circle cx="184.5" cy="1224.5" r="2.6" fill="#fff" stroke="#000" stroke-width="1.2"/>
<path d="M184.5,1224.5 A61.5,61.5 0 0,1 193,1255.5" fill="none" stroke="#666" stroke-width="0.8" />
<rect x="273" y="1240" width="18" height="22" fill="url(#hv)"/>
<rect x="291" y="1240" width="14" height="135" fill="url(#hv)"/>
<polygon points="269,1262 291,1262 291,1375 320,1375 320,1388 278,1388 278,1275 269,1275" fill="url(#hx)" stroke="none" stroke-width="0" />
<line x1="260" y1="1240" x2="305" y2="1240" stroke="#000" stroke-width="2" />
<line x1="273" y1="1240" x2="273" y2="1262" stroke="#000" stroke-width="2" />
<line x1="269" y1="1262" x2="273" y2="1262" stroke="#000" stroke-width="2" />
<line x1="269" y1="1262" x2="269" y2="1275" stroke="#000" stroke-width="2" />
<line x1="269" y1="1275" x2="278" y2="1275" stroke="#000" stroke-width="2" />
<line x1="278" y1="1275" x2="278" y2="1389" stroke="#000" stroke-width="2.4" />
<line x1="276" y1="1388" x2="320" y2="1388" stroke="#000" stroke-width="2.2" />
<line x1="291" y1="1240" x2="291" y2="1375" stroke="#000" stroke-width="2.2" />
<line x1="291" y1="1375" x2="320" y2="1375" stroke="#000" stroke-width="2" />
<line x1="305.3" y1="1240" x2="305.3" y2="1375" stroke="#000" stroke-width="2.6" />
<rect x="265" y="1257" width="5" height="5" rx="0" fill="#fff" stroke="#000" stroke-width="1.1" />
<line x1="305" y1="1353.3" x2="583" y2="1353.3" stroke="#000" stroke-width="2.4" />
<line x1="315" y1="1352.5" x2="315" y2="1375" stroke="#000" stroke-width="1.6" />
<line x1="316.5" y1="1371.5" x2="462" y2="1371.5" stroke="#444" stroke-width="2.6" />
<line x1="316.5" y1="1369" x2="462" y2="1369" stroke="#555" stroke-width="0.8" />
<line x1="316.5" y1="1374" x2="462" y2="1374" stroke="#555" stroke-width="0.8" />
<rect x="316" y="1369" width="5" height="5" rx="0" fill="#fff" stroke="#000" stroke-width="1.1" />
<rect x="383" y="1369" width="5" height="5" rx="0" fill="#fff" stroke="#000" stroke-width="1.1" />
<rect x="388" y="1369" width="5" height="5" rx="0" fill="#fff" stroke="#000" stroke-width="1.1" />
<rect x="457" y="1369" width="5" height="5" rx="0" fill="#fff" stroke="#000" stroke-width="1.1" />
<rect x="319.5" y="1375" width="138" height="14.5" rx="0" fill="none" stroke="#000" stroke-width="1.2" />
<line x1="457.5" y1="1375" x2="463" y2="1375" stroke="#000" stroke-width="1.6" />
<rect x="463.75" y="1353" width="119.25" height="22" fill="url(#hh)"/>
<rect x="460" y="1375" width="123" height="13" fill="url(#hx)"/>
<line x1="463.75" y1="1352.5" x2="463.75" y2="1375" stroke="#000" stroke-width="2" />
<line x1="460" y1="1375.5" x2="583" y2="1375.5" stroke="#000" stroke-width="2" />
<line x1="460" y1="1375" x2="460" y2="1388" stroke="#000" stroke-width="1.6" />
<line x1="460" y1="1388.3" x2="600" y2="1388.3" stroke="#000" stroke-width="2.4" />
<line x1="9" y1="1277" x2="9" y2="1377" stroke="#000" stroke-width="1.1" />
<line x1="11.5" y1="1277" x2="11.5" y2="1377" stroke="#000" stroke-width="1.1" />
<rect x="7" y="1276" width="9" height="4" rx="0" fill="#fff" stroke="#000" stroke-width="1.1" />
<rect x="7" y="1375" width="9" height="4.5" rx="0" fill="#fff" stroke="#000" stroke-width="1.1" />
<rect x="12" y="1379.5" width="4" height="8.5" rx="0" fill="#fff" stroke="#000" stroke-width="1.1" />
<line x1="20.6" y1="1275" x2="20.6" y2="1376" stroke="#000" stroke-width="1.4" />
<line x1="20.6" y1="1375.8" x2="278" y2="1375.8" stroke="#000" stroke-width="1.4" />
<line x1="15" y1="1387.3" x2="275" y2="1387.3" stroke="#000" stroke-width="1.6" />
<rect x="275" y="1381" width="5" height="9" rx="0" fill="#fff" stroke="#000" stroke-width="1.1" />
<line x1="366" y1="620" x2="366" y2="634" stroke="#444" stroke-width="1.2" />
<rect x="280.3" y="474" width="4.6" height="70" rx="0" fill="#111" stroke="#000" stroke-width="1.2" />
<line x1="282.6" y1="475" x2="282.6" y2="543" stroke="#bbb" stroke-width="0.9" />
<path d="M282,475 A69,70 0 0,0 213,545" fill="none" stroke="#333" stroke-width="0.9" />
<rect x="201" y="669.5" width="62.5" height="3.6" rx="0" fill="#222" stroke="#000" stroke-width="1.3" />
<path d="M263.5,673 A63,58 0 0,1 200.5,731" fill="none" stroke="#333" stroke-width="0.9" /></svg></body></html>
